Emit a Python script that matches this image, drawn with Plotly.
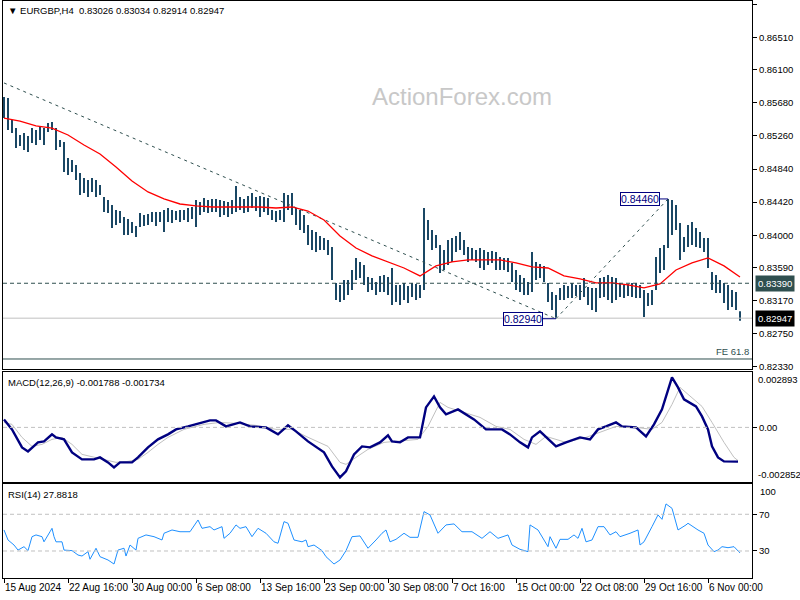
import plotly.graph_objects as go

# ---------------- data ----------------
tick_idx = [0, 32, 64, 96, 128, 160, 192, 224, 256, 288, 320, 352]
tick_text = ["15 Aug 2024", "22 Aug 16:00", "30 Aug 00:00", "6 Sep 08:00", "13 Sep 16:00",
             "23 Sep 00:00", "30 Sep 08:00", "7 Oct 16:00", "15 Oct 00:00", "22 Oct 08:00",
             "29 Oct 16:00", "6 Nov 00:00"]
price_ticks = [0.86930, 0.86510, 0.86100, 0.85680, 0.85260, 0.84840, 0.84420, 0.84000,
               0.83590, 0.83170, 0.82750, 0.82330]

bar_idx = list(range(0, 369, 2))
bar_high = [
    0.85754, 0.85741, 0.85462, 0.85360, 0.85272, 0.85297, 0.85259, 0.85360, 0.85335, 0.85373,
    0.85360, 0.85424, 0.85437, 0.85360, 0.85208, 0.85183, 0.84980, 0.84955, 0.84891, 0.84790,
    0.84726, 0.84701, 0.84726, 0.84701, 0.84637, 0.84485, 0.84447, 0.84384, 0.84320, 0.84307,
    0.84231, 0.84206, 0.84168, 0.84117, 0.84282, 0.84257, 0.84269, 0.84295, 0.84295, 0.84295,
    0.84320, 0.84345, 0.84320, 0.84307, 0.84320, 0.84320, 0.84345, 0.84358, 0.84447, 0.84422,
    0.84472, 0.84447, 0.84460, 0.84460, 0.84447, 0.84434, 0.84422, 0.84447, 0.84625, 0.84485,
    0.84460, 0.84498, 0.84536, 0.84485, 0.84498, 0.84485, 0.84472, 0.84320, 0.84307, 0.84320,
    0.84536, 0.84511, 0.84536, 0.84345, 0.84320, 0.84257, 0.84130, 0.84066, 0.84041, 0.83990,
    0.83965, 0.83939, 0.83850, 0.83394, 0.83369, 0.83432, 0.83432, 0.83559, 0.83712, 0.83661,
    0.83623, 0.83470, 0.83458, 0.83407, 0.83483, 0.83496, 0.83470, 0.83585, 0.83369, 0.83369,
    0.83394, 0.83356, 0.83394, 0.83382, 0.83369, 0.84345, 0.84193, 0.84066, 0.84003, 0.83876,
    0.83813, 0.83939, 0.83965, 0.83990, 0.84041, 0.83939, 0.83850, 0.83838, 0.83813, 0.83838,
    0.83813, 0.83787, 0.83800, 0.83787, 0.83724, 0.83712, 0.83712, 0.83648, 0.83559, 0.83496,
    0.83458, 0.83407, 0.83787, 0.83661, 0.83635, 0.83610, 0.83394, 0.83280, 0.83242, 0.83331,
    0.83369, 0.83356, 0.83394, 0.83369, 0.83369, 0.83458, 0.83343, 0.83331, 0.83331, 0.83458,
    0.83470, 0.83496, 0.83470, 0.83458, 0.83394, 0.83369, 0.83382, 0.83394, 0.83394, 0.83369,
    0.83305, 0.83267, 0.83305, 0.83724, 0.83838, 0.83876, 0.84460, 0.84447, 0.84384, 0.84155,
    0.83977, 0.84130, 0.84168, 0.84092, 0.84041, 0.83965, 0.83965, 0.83534, 0.83496, 0.83432,
    0.83394, 0.83369, 0.83305, 0.83280, 0.83034]
bar_low = [
    0.85487, 0.85335, 0.85297, 0.85107, 0.85132, 0.85082, 0.85056, 0.85170, 0.85145, 0.85208,
    0.85145, 0.85310, 0.85335, 0.85082, 0.85120, 0.84803, 0.84764, 0.84803, 0.84701, 0.84511,
    0.84536, 0.84485, 0.84549, 0.84485, 0.84511, 0.84295, 0.84282, 0.84092, 0.84130, 0.84155,
    0.84003, 0.84003, 0.84028, 0.83977, 0.84104, 0.84117, 0.84130, 0.84168, 0.84117, 0.84168,
    0.84041, 0.84168, 0.84155, 0.84193, 0.84168, 0.84193, 0.84168, 0.84206, 0.84104, 0.84257,
    0.84295, 0.84282, 0.84295, 0.84295, 0.84231, 0.84257, 0.84231, 0.84269, 0.84295, 0.84320,
    0.84282, 0.84295, 0.84345, 0.84307, 0.84231, 0.84295, 0.84257, 0.84193, 0.84168, 0.84193,
    0.84168, 0.84320, 0.84257, 0.84130, 0.84066, 0.84028, 0.83876, 0.83813, 0.83787, 0.83813,
    0.83813, 0.83749, 0.83432, 0.83178, 0.83153, 0.83178, 0.83242, 0.83305, 0.83432, 0.83458,
    0.83369, 0.83280, 0.83305, 0.83242, 0.83280, 0.83280, 0.83242, 0.83115, 0.83153, 0.83115,
    0.83178, 0.83140, 0.83216, 0.83178, 0.83204, 0.83305, 0.83939, 0.83813, 0.83838, 0.83521,
    0.83559, 0.83623, 0.83661, 0.83787, 0.83813, 0.83749, 0.83661, 0.83686, 0.83661, 0.83584,
    0.83559, 0.83623, 0.83648, 0.83559, 0.83559, 0.83559, 0.83534, 0.83407, 0.83305, 0.83280,
    0.83242, 0.83242, 0.83280, 0.83432, 0.83458, 0.83407, 0.83153, 0.83051, 0.82940, 0.83178,
    0.83178, 0.83204, 0.83204, 0.83229, 0.83178, 0.83216, 0.83115, 0.83051, 0.83026, 0.83204,
    0.83216, 0.83178, 0.83140, 0.83178, 0.83216, 0.83204, 0.83229, 0.83216, 0.83204, 0.83204,
    0.82962, 0.83102, 0.83115, 0.83305, 0.83521, 0.83559, 0.83838, 0.84003, 0.84066, 0.83686,
    0.83787, 0.83850, 0.83876, 0.83850, 0.83838, 0.83787, 0.83584, 0.83305, 0.83267, 0.83267,
    0.83140, 0.83051, 0.83089, 0.83051, 0.82914]

ma_idx = list(range(0, 369, 8))
ma_vals = [0.85487, 0.85449, 0.85386, 0.85360, 0.85272, 0.85145, 0.85031, 0.84866, 0.84688,
           0.84549, 0.84460, 0.84396, 0.84371, 0.84358, 0.84358, 0.84358, 0.84358, 0.84345,
           0.84358, 0.84307, 0.84193, 0.83990, 0.83838, 0.83737, 0.83661, 0.83584, 0.83483,
           0.83610, 0.83661, 0.83686, 0.83686, 0.83686, 0.83648, 0.83597, 0.83584, 0.83483,
           0.83445, 0.83394, 0.83394, 0.83369, 0.83331, 0.83382, 0.83559, 0.83648, 0.83712,
           0.83610, 0.83470]

macd_idx = [0, 4, 9, 12, 17, 20, 24, 26, 30, 34, 39, 45, 48, 52, 55, 58, 64, 67, 72, 77, 82,
            86, 92, 97, 103, 106, 111, 118, 123, 131, 137, 142, 146, 152, 160, 164, 168, 171,
            175, 179, 183, 188, 192, 194, 198, 202, 208, 211, 215, 218, 221, 227, 235, 241,
            249, 253, 258, 262, 264, 268, 272, 276, 281, 288, 293, 297, 301, 306, 309, 316,
            321, 325, 329, 332, 334, 337, 340, 346, 349, 352, 354, 357, 360, 367]
macd_vals = [0.000418, -0.000104, -0.001044, -0.001253, -0.000783, -0.000731, -0.000365,
             -0.000522, -0.000626, -0.001305, -0.001670, -0.001670, -0.001566, -0.001827,
             -0.002088, -0.001827, -0.001827, -0.001566, -0.001044, -0.000626, -0.000365,
             -0.000104, 0.000052, 0.000209, 0.000365, 0.000365, 0.000052, 0.000261, 0.000052,
             0.0, -0.000365, 0.000104, -0.000209, -0.000731, -0.001305, -0.002036, -0.002610,
             -0.002297, -0.001409, -0.000992, -0.001044, -0.000783, -0.000418, -0.000731,
             -0.000783, -0.000522, -0.000522, 0.001044, 0.001618, 0.001044, 0.000679,
             0.000940, 0.000418, -0.000104, -0.000104, -0.000365, -0.000783, -0.001044,
             -0.000522, -0.000209, -0.000626, -0.000992, -0.000783, -0.000522, -0.000626,
             -0.000104, 0.000052, 0.000261, 0.000052, 0.0, -0.000470, 0.000157, 0.000940,
             0.001984, 0.002610, 0.002088, 0.001462, 0.001096, 0.000574, -0.000104,
             -0.000992, -0.001566, -0.001775, -0.001788]

signal_idx = [0, 4, 9, 14, 19, 24, 29, 34, 39, 45, 50, 56, 62, 67, 72, 77, 82, 90, 100, 108,
              116, 126, 136, 144, 151, 162, 168, 171, 176, 182, 190, 197, 207, 212, 218, 222,
              230, 238, 246, 253, 260, 266, 271, 276, 281, 291, 298, 306, 316, 324, 329, 334,
              338, 342, 349, 354, 360, 365, 367]
signal_vals = [0.000261, 0.000157, -0.000522, -0.000992, -0.000887, -0.000626, -0.000522,
               -0.000887, -0.001409, -0.001566, -0.001670, -0.001827, -0.001775, -0.001670,
               -0.001305, -0.000887, -0.000522, -0.000104, 0.000157, 0.000261, 0.000209,
               0.000104, -0.000104, -0.000104, -0.000470, -0.000992, -0.001827, -0.001931,
               -0.001566, -0.001148, -0.000783, -0.000731, -0.000626, 0.000052, 0.001305,
               0.001044, 0.000783, 0.000522, 0.000052, -0.000104, -0.000626, -0.000887,
               -0.000470, -0.000626, -0.000783, -0.000522, -0.000261, 0.000052, 0.0,
               -0.000104, 0.000261, 0.001201, 0.002088, 0.001723, 0.001096, 0.000261,
               -0.000783, -0.001566, -0.001734]

rsi_idx = [0, 2, 5, 7, 10, 12, 14, 16, 19, 20, 23, 24, 25, 26, 29, 30, 34, 37, 39, 42, 43,
           46, 48, 52, 55, 57, 60, 61, 63, 66, 67, 71, 75, 79, 80, 84, 88, 93, 97, 99, 103,
           105, 109, 110, 113, 116, 118, 121, 124, 127, 131, 135, 137, 140, 142, 145, 149,
           151, 152, 155, 159, 161, 165, 168, 171, 174, 178, 182, 186, 189, 191, 193, 196,
           200, 203, 207, 210, 213, 217, 221, 225, 229, 234, 239, 243, 247, 252, 254, 258,
           262, 263, 267, 270, 272, 273, 276, 278, 282, 285, 287, 289, 291, 294, 297, 300,
           303, 306, 308, 313, 317, 318, 320, 324, 327, 329, 331, 334, 337, 341, 342, 347,
           350, 352, 355, 357, 359, 362, 365, 368]
rsi_vals = [52.9, 42.0, 36.5, 31.0, 34.7, 30.4, 45.6, 47.5, 45.6, 40.0, 51.0, 54.7, 45.6, 40.0,
            40.0, 31.0, 30.4, 25.6, 24.5, 29.3, 21.0, 33.0, 23.8, 20.2, 15.8, 31.0, 33.0, 24.5,
            36.5, 31.0, 43.8, 47.5, 45.6, 42.0, 49.3, 52.9, 51.0, 51.0, 63.8, 54.7, 56.5, 52.9,
            56.5, 43.8, 49.3, 58.4, 54.7, 56.5, 45.6, 54.7, 49.3, 40.0, 38.4, 62.0, 60.2, 42.0,
            40.0, 42.0, 34.7, 36.5, 30.4, 23.8, 15.8, 20.2, 30.4, 45.6, 46.4, 33.0, 42.0, 49.3,
            52.9, 40.0, 42.7, 49.3, 44.9, 44.9, 72.9, 69.3, 49.3, 58.4, 59.5, 51.0, 51.0, 43.8,
            51.0, 43.8, 47.5, 36.5, 31.8, 29.3, 58.4, 52.9, 42.0, 34.7, 45.6, 33.0, 42.7, 42.7,
            47.5, 43.8, 54.7, 40.0, 42.0, 56.5, 56.5, 47.5, 51.0, 45.6, 49.3, 52.9, 36.5, 40.0,
            56.5, 69.3, 64.5, 81.3, 76.5, 52.9, 58.4, 60.2, 52.9, 49.3, 36.5, 29.3, 31.0, 34.7,
            33.6, 34.7, 27.88]

trend_idx = [0, 276]
trend_vals = [0.85932, 0.82940]
swing_idx = [276, 332]
swing_vals = [0.82940, 0.84460]
resist_level = 0.83390
last_close = 0.82947
fe_level = 0.82429
macd_top, macd_bottom = 0.002893, -0.002852

# ---------------- style ----------------
FONT = "Liberation Sans, Arial, sans-serif"
BAR_C = "#1a4764"
SLATE = "#2f4f4f"
XR = [-0.5, 374.0]

bx, by = [], []
for i, h, l in zip(bar_idx, bar_high, bar_low):
    bx += [i, i, None]
    by += [l, h, None]

fig = go.Figure()
fig.add_trace(go.Scatter(x=bx, y=by, mode="lines", line=dict(color=BAR_C, width=2),
                         xaxis="x", yaxis="y", hoverinfo="skip"))
fig.add_trace(go.Scatter(x=trend_idx, y=trend_vals, mode="lines",
                         line=dict(color=SLATE, width=1, dash="3px,4px"), xaxis="x", yaxis="y"))
fig.add_trace(go.Scatter(x=swing_idx, y=swing_vals, mode="lines",
                         line=dict(color=SLATE, width=1, dash="3px,4px"), xaxis="x", yaxis="y"))
fig.add_trace(go.Scatter(x=ma_idx, y=ma_vals, mode="lines", line=dict(color="#ff0000", width=1.3),
                         xaxis="x", yaxis="y"))
fig.add_trace(go.Scatter(x=signal_idx, y=signal_vals, mode="lines",
                         line=dict(color="#c0c0c0", width=1), xaxis="x2", yaxis="y2"))
fig.add_trace(go.Scatter(x=macd_idx, y=macd_vals, mode="lines",
                         line=dict(color="#000080", width=2.4), xaxis="x2", yaxis="y2"))
fig.add_trace(go.Scatter(x=rsi_idx, y=rsi_vals, mode="lines",
                         line=dict(color="#1e90ff", width=1), xaxis="x3", yaxis="y3"))

H = 577.0
def dom(p_top, p_bot):
    return [(578 - p_bot) / H, (578 - p_top) / H]

axis_common = dict(showgrid=False, zeroline=False, showline=True, mirror=True,
                   linecolor="black", linewidth=1, automargin=False)
tickfont = dict(family=FONT, size=9.5, color="black")

shapes = [
    dict(type="line", xref="x domain", yref="y", x0=0, x1=1, y0=resist_level, y1=resist_level,
         line=dict(color=SLATE, width=1, dash="4px,3px")),
    dict(type="line", xref="x domain", yref="y", x0=0, x1=1, y0=last_close, y1=last_close,
         line=dict(color="#c0c0c0", width=1)),
    dict(type="line", xref="x domain", yref="y", x0=0, x1=1, y0=fe_level, y1=fe_level,
         line=dict(color=SLATE, width=1)),
    dict(type="line", xref="x2 domain", yref="y2", x0=0, x1=1, y0=0, y1=0,
         line=dict(color="#c0c0c0", width=1, dash="4px,3px")),
    dict(type="line", xref="x3 domain", yref="y3", x0=0, x1=1, y0=70, y1=70,
         line=dict(color="#c0c0c0", width=1, dash="4px,3px")),
    dict(type="line", xref="x3 domain", yref="y3", x0=0, x1=1, y0=30, y1=30,
         line=dict(color="#c0c0c0", width=1, dash="4px,3px")),
]

ann = [
    dict(text="▼ EURGBP,H4  0.83026 0.83034 0.82914 0.82947", xref="paper", yref="paper",
         x=0, y=1, xanchor="left", yanchor="top", xshift=3, yshift=-2, showarrow=False,
         font=dict(family=FONT, size=9.5, color="black")),
    dict(text="ActionForex.com", xref="paper", yref="paper", x=(462 - 3) / 749.0,
         y=(578 - 96) / H, xanchor="center", yanchor="middle", showarrow=False,
         font=dict(family=FONT, size=24, color="#c8c8c8")),
    dict(text="MACD(12,26,9) -0.001788 -0.001734", xref="x2 domain", yref="y2 domain",
         x=0, y=1, xanchor="left", yanchor="top", xshift=3, yshift=-3, showarrow=False,
         font=dict(family=FONT, size=9.5, color="black")),
    dict(text="RSI(14) 27.8818", xref="x3 domain", yref="y3 domain",
         x=0, y=1, xanchor="left", yanchor="top", xshift=3, yshift=-3, showarrow=False,
         font=dict(family=FONT, size=9.5, color="black")),
    dict(text="FE 61.8", xref="x domain", yref="y", x=1, y=fe_level, xanchor="right",
         yanchor="bottom", xshift=-1, yshift=0, showarrow=False,
         font=dict(family=FONT, size=9.5, color=SLATE)),
    dict(text="0.84460", x=swing_idx[1], y=swing_vals[1], xref="x", yref="y",
         showarrow=True, arrowhead=0, arrowwidth=1, arrowcolor="#000080", ax=-28, ay=0,
         bgcolor="white", bordercolor="#000080", borderwidth=1, borderpad=0,
         font=dict(family=FONT, size=10.5, color="#000080")),
    dict(text="0.82940", x=swing_idx[0], y=swing_vals[0], xref="x", yref="y",
         showarrow=True, arrowhead=0, arrowwidth=1, arrowcolor="#000080", ax=-33, ay=0,
         bgcolor="white", bordercolor="#000080", borderwidth=1, borderpad=0,
         font=dict(family=FONT, size=10.5, color="#000080")),
    dict(text="0.83390", xref="x domain", yref="y", x=1, y=resist_level, xanchor="left",
         xshift=3, showarrow=False, bgcolor=SLATE, borderpad=2,
         font=dict(family=FONT, size=9.5, color="white")),
    dict(text="0.82947", xref="x domain", yref="y", x=1, y=last_close, xanchor="left",
         xshift=3, showarrow=False, bgcolor="black", borderpad=2,
         font=dict(family=FONT, size=9.5, color="white")),
    dict(text="0.002893", xref="x2 domain", yref="y2", x=1, y=macd_top, xanchor="left",
         yanchor="top", xshift=4, yshift=0, showarrow=False, font=tickfont),
    dict(text="-0.002852", xref="x2 domain", yref="y2", x=1, y=macd_bottom, xanchor="left",
         yanchor="bottom", xshift=4, yshift=0, showarrow=False, font=tickfont),
    dict(text="100", xref="x3 domain", yref="y3", x=1, y=100, xanchor="left",
         yanchor="middle", xshift=6, yshift=-5, showarrow=False, font=tickfont),
    dict(text="0", xref="x3 domain", yref="y3", x=1, y=0, xanchor="left",
         yanchor="middle", xshift=6, yshift=6, showarrow=False, font=tickfont),
]

fig.update_layout(
    width=800, height=600, margin=dict(l=3, r=48, t=1, b=22, autoexpand=False),
    paper_bgcolor="white", plot_bgcolor="white", showlegend=False,
    xaxis=dict(domain=[0, 1], range=XR, anchor="y", showticklabels=False, ticks="", **axis_common),
    xaxis2=dict(domain=[0, 1], range=XR, anchor="y2", showticklabels=False, ticks="", **axis_common),
    xaxis3=dict(domain=[0, 1], range=XR, anchor="y3", tickvals=tick_idx, ticktext=tick_text,
                ticks="outside", ticklen=4, tickcolor="black", ticklabelposition="outside right",
                tickangle=0, tickfont=dict(family=FONT, size=10, color="black"), **axis_common),
    yaxis=dict(domain=dom(1, 369), range=[0.82302, 0.86972], anchor="x", side="right",
               tickvals=price_ticks, ticktext=["%.5f" % v for v in price_ticks],
               ticks="outside", ticklen=4, tickcolor="black", tickfont=tickfont, **axis_common),
    yaxis2=dict(domain=dom(372, 482), range=[macd_bottom, macd_top], anchor="x2", side="right",
                tickvals=[0], ticktext=["0.00"], ticks="outside", ticklen=4, tickcolor="black",
                tickfont=tickfont, **axis_common),
    yaxis3=dict(domain=dom(484, 578), range=[0.57, 103.0], anchor="x3", side="right",
                tickvals=[70, 30], ticktext=["70", "30"], ticks="outside", ticklen=4,
                tickcolor="black", tickfont=tickfont, **axis_common),
    shapes=shapes, annotations=ann,
)

fig.write_html("out.html", config={"displayModeBar": False},
               post_script="document.body.style.margin='0';document.body.style.overflow='hidden';")
